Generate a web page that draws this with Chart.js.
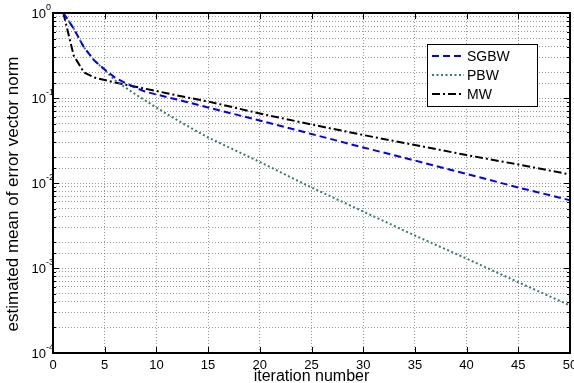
<!DOCTYPE html>
<html>
<head>
<meta charset="utf-8">
<script src="https://cdn.jsdelivr.net/npm/chart.js@4/dist/chart.umd.min.js"></script>
<style>
  html, body { margin: 0; padding: 0; background: #fff; }
</style>
</head>
<body>
<canvas id="chart" width="574" height="383"></canvas>
<script>
const iterations = [1, 2, 3, 4, 5, 6, 7, 8, 9, 10, 11, 12, 13, 14, 15, 20, 25, 30, 35, 40, 45, 50];
const sgbw = [1.0, 0.657, 0.393, 0.276, 0.216, 0.174, 0.150, 0.132, 0.118, 0.110, 0.1027, 0.096, 0.0893, 0.0832, 0.0773, 0.0543, 0.0377, 0.0262, 0.0184, 0.0128, 0.00885, 0.00628];
const pbw  = [1.0, 0.657, 0.393, 0.276, 0.213, 0.161, 0.133, 0.110, 0.0922, 0.0773, 0.0648, 0.0551, 0.0469, 0.0400, 0.0343, 0.0177, 0.00885, 0.00462, 0.00241, 0.00129, 0.00068, 0.000362];
const mw   = [1.0, 0.316, 0.1995, 0.174, 0.163, 0.152, 0.1433, 0.1355, 0.128, 0.1208, 0.1138, 0.1073, 0.1014, 0.096, 0.091, 0.0657, 0.0488, 0.0367, 0.028, 0.0213, 0.0165, 0.0126];
const yExponents = [0, -1, -2, -3, -4];
const seriesNames = ["SGBW", "PBW", "MW"];
const yTitle = "estimated mean of error vector norm";

const FONT = "'Liberation Sans', Arial, Helvetica, sans-serif";

function pts(arr) { return iterations.map((x, i) => ({ x: x, y: arr[i] })); }

const matlabBox = {
    id: "matlabBox",
    afterDraw(chart) {
        const ctx = chart.ctx;
        const a = chart.chartArea;
        const xs = chart.scales.x, ys = chart.scales.y;
        ctx.save();

        // tick marks inside the axes box
        ctx.strokeStyle = "#000";
        ctx.lineWidth = 1;
        ctx.setLineDash([]);
        ctx.beginPath();
        ys.ticks.forEach(t => {
            const y = Math.round(ys.getPixelForValue(t.value)) + 0.5;
            const len = t.major ? 6 : 3;
            ctx.moveTo(a.left, y); ctx.lineTo(a.left + len, y);
            ctx.moveTo(a.right, y); ctx.lineTo(a.right - len, y);
        });
        xs.ticks.forEach(t => {
            const x = Math.round(xs.getPixelForValue(t.value)) + 0.5;
            ctx.moveTo(x, a.bottom); ctx.lineTo(x, a.bottom - 6);
            ctx.moveTo(x, a.top); ctx.lineTo(x, a.top + 6);
        });
        ctx.stroke();

        // axes box
        ctx.lineWidth = 2;
        ctx.strokeRect(a.left, a.top, a.right - a.left, a.bottom - a.top);

        // y tick labels 10^n
        ctx.fillStyle = "#000";
        yExponents.forEach(e => {
            const y = ys.getPixelForValue(Math.pow(10, e));
            ctx.font = "13px " + FONT;
            ctx.textAlign = "right";
            ctx.textBaseline = "middle";
            ctx.fillText("10", 46, y + 1);
            ctx.font = "9px " + FONT;
            ctx.textAlign = "left";
            ctx.fillText(e === 0 ? "0" : "-" + Math.abs(e), 46, y - 5);
        });

        // y axis title
        ctx.save();
        ctx.translate(13, 194);
        ctx.rotate(-Math.PI / 2);
        ctx.font = "17px " + FONT;
        ctx.textAlign = "center";
        ctx.textBaseline = "middle";
        ctx.fillText(yTitle, 0, 0);
        ctx.restore();

        // legend
        const lx = 427.5, ly = 44.5, lw = 110, lh = 62;
        ctx.fillStyle = "#fff";
        ctx.fillRect(lx, ly, lw, lh);
        ctx.lineWidth = 1;
        ctx.strokeStyle = "#000";
        ctx.strokeRect(lx, ly, lw, lh);
        chart.data.datasets.forEach((ds, i) => {
            const y = 56 + i * 19;
            ctx.beginPath();
            ctx.strokeStyle = ds.borderColor;
            ctx.lineWidth = ds.borderWidth;
            ctx.setLineDash(ds.borderDash);
            ctx.moveTo(432, y);
            ctx.lineTo(464, y);
            ctx.stroke();
            ctx.setLineDash([]);
            ctx.fillStyle = "#000";
            ctx.font = "14px " + FONT;
            ctx.textAlign = "left";
            ctx.textBaseline = "middle";
            ctx.fillText(ds.label, 467, y + 1);
        });
        ctx.restore();
    }
};

const gridStyle = { color: "rgba(0,0,0,0.4)", lineWidth: 1, drawTicks: false };

new Chart(document.getElementById("chart"), {
    type: "line",
    data: {
        datasets: [
            { label: seriesNames[0], data: pts(sgbw), borderColor: "#0000ff", borderWidth: 2, borderDash: [7, 4], pointRadius: 0, fill: false, tension: 0 },
            { label: seriesNames[1], data: pts(pbw), borderColor: "#3a7d62", borderWidth: 2, borderDash: [2, 2.5], pointRadius: 0, fill: false, tension: 0 },
            { label: seriesNames[2], data: pts(mw), borderColor: "#000000", borderWidth: 2, borderDash: [8, 3, 2, 3], pointRadius: 0, fill: false, tension: 0 }
        ]
    },
    options: {
        responsive: false,
        animation: false,
        events: [],
        layout: { padding: { top: 13, right: 4, left: 0, bottom: 0 } },
        plugins: { legend: { display: false }, tooltip: { enabled: false } },
        scales: {
            x: {
                type: "linear",
                min: 0, max: 50,
                grid: gridStyle,
                border: { display: false, dash: [1, 2] },
                ticks: { stepSize: 5, color: "#000", font: { family: FONT, size: 13 }, padding: 5, maxRotation: 0 },
                title: { display: true, text: "iteration number", color: "#000", font: { family: FONT, size: 16 }, padding: { top: 0, bottom: -3 } },
                afterFit(scale) { scale.height = 30; scale.paddingLeft = 0; scale.paddingRight = 0; }
            },
            y: {
                type: "logarithmic",
                min: 1e-4, max: 1,
                grid: gridStyle,
                border: { display: false, dash: [1, 2] },
                ticks: { display: false },
                title: { display: false },
                afterFit(scale) { scale.width = 53; }
            }
        }
    },
    plugins: [matlabBox]
});
</script>
</body>
</html>
